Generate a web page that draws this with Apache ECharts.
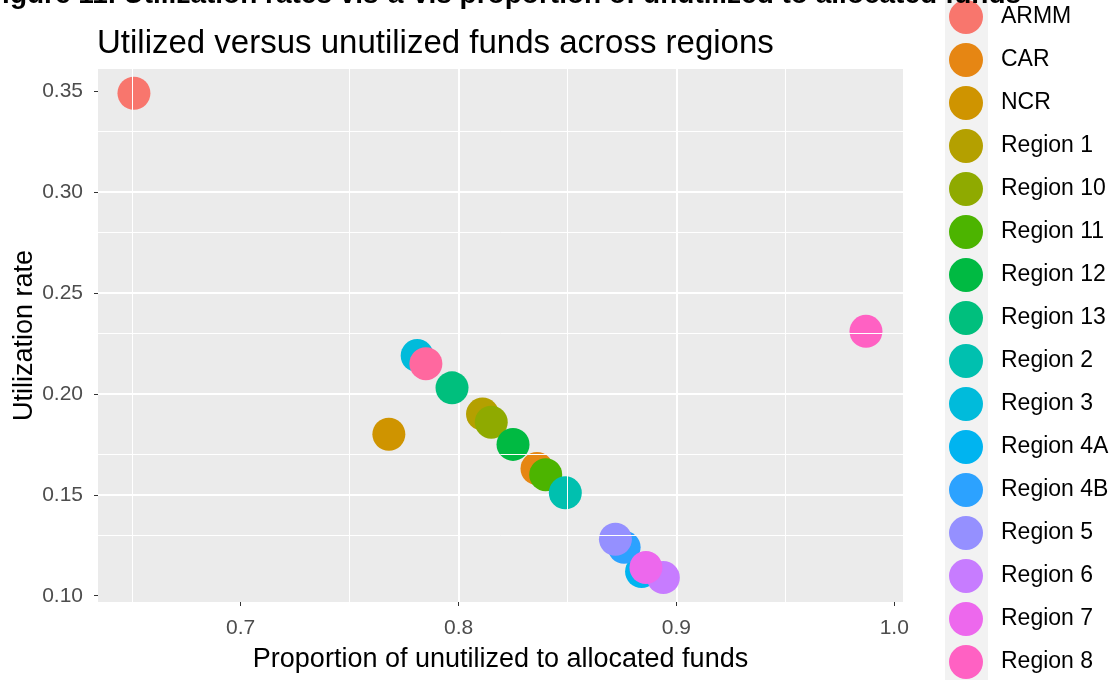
<!DOCTYPE html>
<html>
<head>
<meta charset="utf-8">
<script src="https://cdn.jsdelivr.net/npm/echarts@6/dist/echarts.min.js"></script>
<style>
  html, body { margin: 0; padding: 0; background: #fff; }
  #chart { width: 1114px; height: 680px; }
</style>
</head>
<body>
<div id="chart"></div>
<script>
// regions in legend order (alphabetical, same as draw order)
var regions = ["ARMM", "CAR", "NCR", "Region 1", "Region 10", "Region 11", "Region 12", "Region 13",
  "Region 2", "Region 3", "Region 4A", "Region 4B", "Region 5", "Region 6", "Region 7", "Region 8", "Region 9"];
// proportion of unutilized to allocated funds
var unutilized = [0.651, 0.836, 0.768, 0.811, 0.815, 0.840, 0.825, 0.797,
  0.849, 0.781, 0.884, 0.876, 0.872, 0.894, 0.886, 0.987, 0.785];
// utilization rate
var utilization = [0.349, 0.163, 0.180, 0.190, 0.186, 0.160, 0.175, 0.203,
  0.151, 0.219, 0.112, 0.124, 0.128, 0.109, 0.114, 0.231, 0.215];
var xTicks = [0.7, 0.8, 0.9, 1.0];
var yTicks = [0.10, 0.15, 0.20, 0.25, 0.30, 0.35];
var xMinor = [0.65, 0.75, 0.85, 0.95];
var yMinor = [0.125, 0.175, 0.225, 0.275, 0.325];

// ggplot hue palette, 17 levels
var colors = ["#F8766D", "#E68613", "#CF9400", "#B4A000", "#8FAA00", "#4CB400", "#00BA42", "#00BF7D",
  "#00C0AF", "#00BBDB", "#00B4F0", "#2CA2FF", "#9590FF", "#C77CFF", "#ED68ED", "#FF61C3", "#FF689F"];

var chart = echarts.init(document.getElementById("chart"));
var font = "Liberation Sans";

var series = [{
  // only carries the minor grid lines
  name: "",
  type: "scatter",
  data: [],
  silent: true,
  z: 1,
  markLine: {
    silent: true,
    symbol: "none",
    label: { show: false },
    animation: false,
    lineStyle: { color: "#fff", width: 1, type: "solid" },
    data: xMinor.map(function (v) { return { xAxis: v }; })
      .concat(yMinor.map(function (v) { return { yAxis: v }; }))
  }
}];
regions.forEach(function (r, i) {
  series.push({
    name: r,
    type: "scatter",
    symbol: "circle",
    symbolSize: 33,
    z: 3,
    itemStyle: { color: colors[i], opacity: 1 },
    data: [[unutilized[i], utilization[i]]]
  });
});

chart.setOption({
  animation: false,
  textStyle: { fontFamily: font },
  title: {
    text: "Utilized versus unutilized funds across regions",
    left: 92,
    top: 22,
    textStyle: { fontFamily: font, fontSize: 33, fontWeight: "normal", color: "#000" }
  },
  graphic: [
    {
      type: "rect",
      shape: { x: 945, y: 0, width: 43, height: 680 },
      style: { fill: "#F2F2F2" },
      z: 0
    },
    {
      type: "text",
      x: -15,
      y: 9,
      z: 10,
      style: {
        text: "Figure 11. Utilization rates vis-à-vis proportion of unutilized to allocated funds",
        font: "bold 28px 'Liberation Sans'",
        fill: "#000",
        verticalAlign: "bottom"
      }
    }
  ],
  legend: {
    orient: "vertical",
    left: 944,
    top: -5,
    height: 1000,
    itemWidth: 60,
    itemHeight: 34,
    itemGap: 9,
    icon: "circle",
    data: regions,
    textStyle: { fontFamily: font, fontSize: 23, color: "#000" }
  },
  grid: {
    left: 98,
    right: 211,
    top: 69,
    bottom: 78,
    show: true,
    backgroundColor: "#EBEBEB",
    borderWidth: 0,
    containLabel: false,
    outerBoundsMode: "none"
  },
  xAxis: {
    type: "value",
    min: 0.6345,
    max: 1.004,
    name: "Proportion of unutilized to allocated funds",
    nameLocation: "middle",
    nameGap: 44,
    nameTextStyle: { fontFamily: font, fontSize: 27, color: "#000" },
    axisLine: { show: false },
    axisTick: { show: true, length: 4, customValues: xTicks, lineStyle: { color: "#333", width: 1 } },
    axisLabel: {
      customValues: xTicks,
      margin: 16,
      fontSize: 21,
      color: "#4D4D4D",
      formatter: function (v) { return v.toFixed(1); }
    },
    splitLine: { show: true, showMinLine: false, showMaxLine: false, lineStyle: { color: "#fff", width: 2 } }
  },
  yAxis: {
    type: "value",
    min: 0.0969,
    max: 0.361,
    name: "Utilization rate",
    nameLocation: "middle",
    nameGap: 60,
    nameMoveOverlap: false,
    nameTextStyle: { fontFamily: font, fontSize: 27, color: "#000" },
    axisLine: { show: false },
    axisTick: { show: true, length: 4, customValues: yTicks, lineStyle: { color: "#333", width: 1 } },
    axisLabel: {
      customValues: yTicks,
      margin: 15,
      fontSize: 21,
      color: "#4D4D4D",
      formatter: function (v) { return v.toFixed(2); }
    },
    splitLine: { show: true, showMinLine: false, showMaxLine: false, lineStyle: { color: "#fff", width: 2 } }
  },
  series: series
});
</script>
</body>
</html>
